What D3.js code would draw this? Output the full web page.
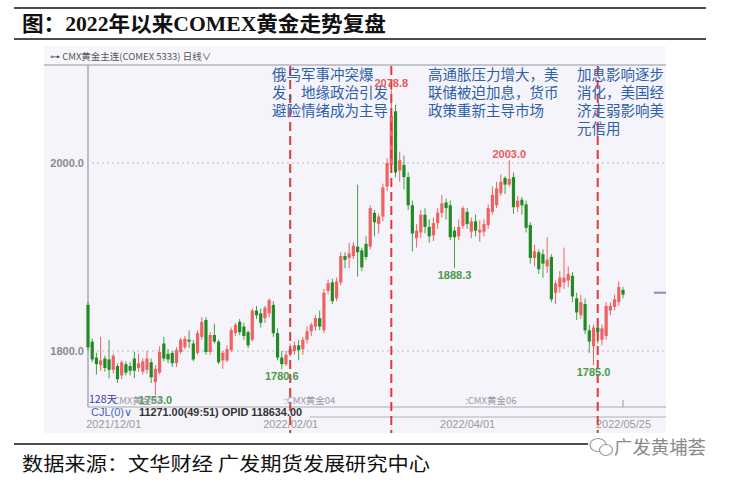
<!DOCTYPE html>
<html><head><meta charset="utf-8">
<script src="https://cdn.jsdelivr.net/npm/d3@7"></script>
<style>
html,body{margin:0;padding:0;background:#fff;}
svg{display:block;}
</style></head>
<body><svg id="c" width="730" height="480"></svg>
<script>
const dates = [
"2021-11-22","2021-11-23","2021-11-24","2021-11-26","2021-11-29","2021-11-30",
"2021-12-01","2021-12-02","2021-12-03","2021-12-06","2021-12-07","2021-12-08","2021-12-09","2021-12-10","2021-12-13","2021-12-14","2021-12-15","2021-12-16","2021-12-17","2021-12-20","2021-12-21","2021-12-22","2021-12-23","2021-12-27","2021-12-28","2021-12-29","2021-12-30","2021-12-31",
"2022-01-03","2022-01-04","2022-01-05","2022-01-06","2022-01-07","2022-01-10","2022-01-11","2022-01-12","2022-01-13","2022-01-14","2022-01-18","2022-01-19","2022-01-20","2022-01-21","2022-01-24","2022-01-25","2022-01-26","2022-01-27","2022-01-28","2022-01-31",
"2022-02-01","2022-02-02","2022-02-03","2022-02-04","2022-02-07","2022-02-08","2022-02-09","2022-02-10","2022-02-11","2022-02-14","2022-02-15","2022-02-16","2022-02-17","2022-02-18","2022-02-22","2022-02-23","2022-02-24","2022-02-25","2022-02-28",
"2022-03-01","2022-03-02","2022-03-03","2022-03-04","2022-03-07","2022-03-08","2022-03-09","2022-03-10","2022-03-11","2022-03-14","2022-03-15","2022-03-16","2022-03-17","2022-03-18","2022-03-21","2022-03-22","2022-03-23","2022-03-24","2022-03-25","2022-03-28","2022-03-29","2022-03-30","2022-03-31",
"2022-04-01","2022-04-04","2022-04-05","2022-04-06","2022-04-07","2022-04-08","2022-04-11","2022-04-12","2022-04-13","2022-04-14","2022-04-18","2022-04-19","2022-04-20","2022-04-21","2022-04-22","2022-04-25","2022-04-26","2022-04-27","2022-04-28","2022-04-29",
"2022-05-02","2022-05-03","2022-05-04","2022-05-05","2022-05-06","2022-05-09","2022-05-10","2022-05-11","2022-05-12","2022-05-13","2022-05-16","2022-05-17","2022-05-18","2022-05-19","2022-05-20","2022-05-23","2022-05-24","2022-05-25"];

const open = [1849,1810,1793,1785,1792,1791,1780,1784,1774,1786,1784,1792,1782,1778,1780,1788,1767,1777,1808,1797,1798,1787,1799,1804,1812,1808,1798,1815,
1833,1799,1817,1810,1790,1790,1801,1819,1831,1826,1820,1812,1843,1840,1835,1840,1849,1819,1793,1786,
1797,1800,1806,1802,1812,1821,1826,1835,1822,1864,1873,1856,1873,1901,1899,1901,1911,1907,1914,
1911,1947,1935,1943,1975,1998,2055,1992,1998,1985,1955,1920,1926,1945,1932,1923,1936,1947,1958,1955,1928,1922,1933,
1948,1927,1938,1926,1927,1934,1948,1955,1968,1984,1977,1985,1953,1961,1956,1934,1899,1905,1903,1890,
1900,1862,1868,1873,1875,1880,1856,1838,1850,1822,1805,1825,1812,1816,1843,1847,1852,1865];

const high = [1852,1813,1798,1815,1795,1812,1797,1787,1790,1789,1788,1799,1797,1792,1800,1792,1785,1805,1815,1802,1800,1804,1814,1816,1822,1812,1822,1836,
1836,1820,1829,1812,1800,1806,1825,1830,1834,1830,1822,1845,1848,1845,1848,1856,1853,1824,1800,1800,
1808,1810,1812,1815,1826,1830,1838,1843,1866,1876,1877,1878,1905,1905,1915,1916,1977,1910,1922,
1955,1950,1946,1978,2005,2078.8,2062,2012,2008,1990,1960,1935,1950,1952,1940,1942,1952,1966,1962,1960,1932,1940,1954,
1952,1942,1945,1939,1940,1956,1975,1980,1988,1986,2003,1990,1965,1964,1960,1937,1913,1908,1908,1921,
1903,1875,1885,1910,1890,1884,1862,1860,1856,1828,1828,1832,1828,1852,1852,1860,1874,1868];

const low = [1800,1788,1775,1779,1778,1771,1776,1766,1770,1774,1774,1771,1778,1775,1776,1766,1753,1775,1789,1787,1783,1783,1797,1802,1803,1789,1796,1812,
1796,1796,1808,1786,1781,1788,1799,1816,1817,1812,1803,1810,1834,1825,1830,1836,1815,1790,1780.6,1784,
1794,1796,1790,1796,1808,1816,1822,1822,1819,1860,1850,1853,1870,1888,1888,1898,1879,1885,1897,
1908,1922,1925,1938,1970,1990,1985,1980,1972,1950,1906,1910,1920,1925,1915,1917,1930,1942,1940,1918,1888.3,1918,1930,
1930,1920,1922,1916,1922,1930,1945,1952,1965,1967,1975,1946,1948,1945,1926,1893,1890,1882,1878,1883,
1852,1850,1862,1866,1868,1852,1833,1834,1818,1798,1785,1808,1806,1812,1838,1843,1848,1856];

const close = [1804,1791,1786,1790,1782,1780,1795,1770,1788,1777,1779,1779,1787,1789,1792,1772,1781,1799,1792,1791,1787,1801,1812,1813,1810,1791,1819,1831,
1799,1817,1810,1788,1798,1802,1822,1828,1820,1816,1806,1843,1838,1830,1846,1854,1819,1793,1786,1796,
1802,1806,1801,1812,1821,1828,1835,1826,1862,1872,1853,1874,1901,1897,1904,1912,1905,1889,1900,
1952,1937,1943,1974,2000,2050,1990,2003,1985,1955,1925,1928,1945,1932,1922,1936,1947,1957,1952,1921,1921,1932,1952,
1935,1938,1928,1929,1935,1952,1966,1973,1980,1977,1983,1953,1960,1955,1931,1899,1906,1887,1893,1897,
1855,1872,1878,1878,1882,1858,1841,1852,1822,1810,1825,1820,1824,1848,1848,1855,1868,1860];

const yTicks = [1800, 2000];
const xTickDates = ["2021-12-01","2022-02-01","2022-04-01","2022-05-25"];
const xTickLabels = ["2021/12/01","2022/02/01","2022/04/01","2022/05/25"];
const eventDates = ["2022-02-01","2022-03-08","2022-05-17"];
const eventTexts = [
  ["俄乌军事冲突爆","发，地缘政治引发","避险情绪成为主导"],
  ["高通胀压力增大，美","联储被迫加息，货币","政策重新主导市场"],
  ["加息影响逐步","消化，美国经","济走弱影响美","元信用"]];
const highMarkDates = ["2022-03-08","2022-04-18"];
const lowMarkDates = ["2021-12-15","2022-01-28","2022-03-29","2022-05-16"];
const contractLabels = ["CMX黄金03",":CMX黄金04",":CMX黄金06"];
const contractDates = ["2021-12-01","2022-01-31","2022-04-01"];
const lastMarker = 1862;

const svg = d3.select("#c");
const RED = "#ef6262", GREEN = "#238a23", BLUE = "#2f5fa8";
const CJK = "'Noto Sans CJK SC','Noto Sans',sans-serif";
const AR = "'Liberation Sans',Arial,sans-serif";

// Title block
svg.append("line").attr("x1",14).attr("x2",706).attr("y1",8).attr("y2",8).attr("stroke","#111").attr("stroke-width",1.5);
svg.append("line").attr("x1",14).attr("x2",706).attr("y1",39).attr("y2",39).attr("stroke","#111").attr("stroke-width",1.5);
svg.append("text").attr("x",22).attr("y",31).attr("font-family","'Liberation Serif',"+CJK)
  .attr("font-weight","bold").attr("font-size",21).attr("fill","#111")
  .attr("textLength",364).attr("lengthAdjust","spacingAndGlyphs")
  .text("图：2022年以来COMEX黄金走势复盘");

// Panel
const P = {l:44, r:666, t:46, b:433};
svg.append("rect").attr("x",P.l).attr("y",P.t).attr("width",P.r-P.l).attr("height",P.b-P.t).attr("fill","#f4f4fa");
svg.append("rect").attr("x",P.l).attr("y",P.t).attr("width",P.r-P.l).attr("height",19).attr("fill","#f7f7fb");
svg.append("line").attr("x1",P.l).attr("x2",P.r).attr("y1",65).attr("y2",65).attr("stroke","#b4b4bc").attr("stroke-width",1.5);
svg.append("text").attr("x",50).attr("y",60).attr("font-family",CJK).attr("font-size",9.5).attr("fill","#555")
  .text("⊶ CMX黄金主连(COMEX 5333)   日线∨");

const x = d3.scalePoint().domain(dates).range([88, 623]);
const y = d3.scaleLinear().domain([1800, 2000]).range([351, 163]);

// grid lines
svg.append("g").selectAll("line").data(yTicks).join("line")
  .attr("x1",92).attr("x2",P.r).attr("y1",d=>y(d)).attr("y2",d=>y(d))
  .attr("stroke","#b8b8c4").attr("stroke-dasharray","2,3").attr("stroke-width",1);

// y axis
const yAxis = d3.axisLeft(y).tickValues(yTicks).tickFormat(d3.format(".1f")).tickSize(0).tickPadding(4);
const gy = svg.append("g").attr("transform","translate(88,0)").call(yAxis);
gy.select(".domain").remove();
gy.selectAll("text").attr("font-family",AR).attr("font-weight","bold").attr("font-size",11).attr("fill","#8a8a8a");
svg.append("line").attr("x1",88).attr("x2",88).attr("y1",65).attr("y2",407).attr("stroke","#a8a8b0").attr("stroke-width",1.5);

// bottom lines
svg.append("line").attr("x1",88).attr("x2",P.r).attr("y1",407).attr("y2",407).attr("stroke","#a8a8b0").attr("stroke-width",1.2);
svg.append("line").attr("x1",310).attr("x2",P.r).attr("y1",417).attr("y2",417).attr("stroke","#b0b0b8").attr("stroke-width",1.2);
svg.append("line").attr("x1",x("2022-05-25")).attr("x2",x("2022-05-25")).attr("y1",400).attr("y2",407).attr("stroke","#999");

// x axis labels
const xAxis = d3.axisBottom(x).tickValues(xTickDates).tickFormat((d,i)=>xTickLabels[i]).tickSize(0).tickPadding(0);
const gx = svg.append("g").attr("transform","translate(0,420)").call(xAxis);
gx.select(".domain").remove();
gx.selectAll("text").attr("font-family",AR).attr("font-size",11).attr("fill","#9a9a9a");

// candles
const idx = d3.range(dates.length);
const cg = svg.append("g");
cg.selectAll("line").data(idx).join("line")
  .attr("x1",i=>x(dates[i])).attr("x2",i=>x(dates[i]))
  .attr("y1",i=>y(high[i])).attr("y2",i=>y(low[i]))
  .attr("stroke",i=>close[i]>=open[i]?RED:"#46a046").attr("stroke-width",1);
cg.selectAll("rect").data(idx).join("rect")
  .attr("x",i=>x(dates[i])-1.6).attr("width",3.2)
  .attr("y",i=>y(Math.max(open[i],close[i])))
  .attr("height",i=>Math.max(1.2, Math.abs(y(open[i])-y(close[i]))))
  .attr("fill",i=>close[i]>=open[i]?RED:GREEN);

// event dashed lines
svg.append("g").selectAll("line").data(eventDates).join("line")
  .attr("x1",d=>x(d)).attr("x2",d=>x(d)).attr("y1",66).attr("y2",P.b)
  .attr("stroke","#e03a3a").attr("stroke-width",2).attr("stroke-dasharray","9,5");

// annotations
const annX = [272, 428, 577];
eventTexts.forEach((lines,k)=>{
  const t = svg.append("text").attr("font-family",CJK).attr("font-size",14.5).attr("fill",BLUE);
  lines.forEach((s,j)=>t.append("tspan").attr("x",annX[k]).attr("y",80+j*18).text(s));
});

// high/low marks
svg.append("g").selectAll("text").data(highMarkDates).join("text")
  .attr("x",d=>x(d)).attr("y",d=>y(high[dates.indexOf(d)])-2).attr("text-anchor","middle")
  .attr("font-family",AR).attr("font-weight","bold").attr("font-size",11).attr("fill","#e85a5a")
  .text(d=>high[dates.indexOf(d)].toFixed(1));
svg.append("g").selectAll("text").data(lowMarkDates).join("text")
  .attr("x",d=>x(d)).attr("y",d=>Math.min(y(low[dates.indexOf(d)])+11,404)).attr("text-anchor","middle")
  .attr("font-family",AR).attr("font-weight","bold").attr("font-size",11).attr("fill","#4a9a4a")
  .text(d=>low[dates.indexOf(d)].toFixed(1));

// contract labels
svg.append("g").selectAll("text").data(contractLabels).join("text")
  .attr("x",(d,i)=>x(contractDates[i])-(i==0?0:2)).attr("y",404)
  .attr("font-family",CJK).attr("font-size",9.5).attr("fill","#9a9aa6").text(d=>d);
svg.append("text").attr("x",89).attr("y",403).attr("font-family",CJK).attr("font-size",10.5).attr("fill","#3c3cb0").text("128天");

svg.append("text").attr("x",91).attr("y",416).attr("font-family",AR).attr("font-size",11).attr("fill","#4a62c4").text("CJL(0)∨");
svg.append("text").attr("x",139).attr("y",416).attr("font-family",AR).attr("font-weight","bold").attr("font-size",11).attr("fill","#333")
  .attr("textLength",163).attr("lengthAdjust","spacingAndGlyphs").text("11271.00(49:51)  OPID 118634.00");

// last price marker
svg.append("line").attr("x1",654).attr("x2",P.r).attr("y1",y(lastMarker)).attr("y2",y(lastMarker)).attr("stroke","#8c8cc8").attr("stroke-width",2);

// footer
svg.append("line").attr("x1",14).attr("x2",706).attr("y1",444).attr("y2",444).attr("stroke","#111").attr("stroke-width",1.5);
svg.append("text").attr("x",22).attr("y",471).attr("font-family",CJK).attr("font-size",19).attr("fill","#111")
  .attr("textLength",408).attr("lengthAdjust","spacingAndGlyphs").text("数据来源：文华财经 广发期货发展研究中心");
const wm = svg.append("g");
wm.append("rect").attr("x",588).attr("y",436).attr("width",120).attr("height",22).attr("fill","#fff");
wm.append("ellipse").attr("cx",598).attr("cy",445).attr("rx",8).attr("ry",6.5).attr("fill","none").attr("stroke","#999").attr("stroke-width",1.2);
wm.append("ellipse").attr("cx",606).attr("cy",450).attr("rx",6.5).attr("ry",5.5).attr("fill","#fff").attr("stroke","#999").attr("stroke-width",1.2);
wm.append("text").attr("x",614).attr("y",454).attr("font-family",CJK).attr("font-size",18).attr("fill","#8a8a8a")
  .attr("textLength",92).attr("lengthAdjust","spacingAndGlyphs").text("广发黄埔荟");
</script></body></html>
